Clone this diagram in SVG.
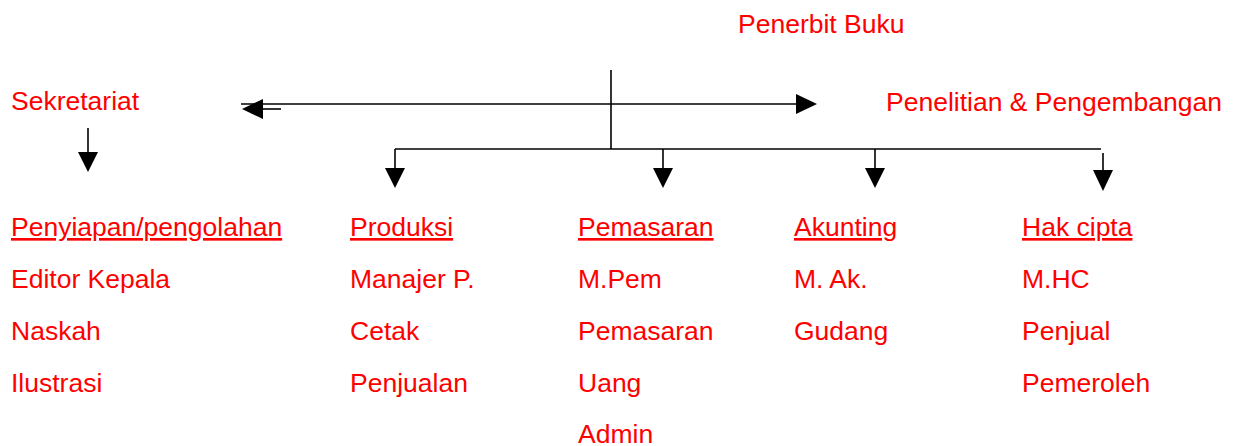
<svg xmlns="http://www.w3.org/2000/svg" width="1233" height="446" viewBox="0 0 1233 446">
  <style>
    .t { font-family: "Liberation Sans", Arial, sans-serif; font-size: 26.5px; fill: #ff0000; }
    .u { text-decoration: underline; }
    .ln { stroke: #000; stroke-width: 1.6; fill: none; }
    .ah { fill: #000; stroke: none; }
  </style>
  <rect width="1233" height="446" fill="#fff"/>

  <!-- connectors -->
  <g id="connectors">
    <!-- trunk from the top unit -->
    <line class="ln" x1="611" y1="70" x2="611" y2="149"/>
    <!-- staff line to Sekretariat and Penelitian & Pengembangan -->
    <line class="ln" x1="241" y1="104" x2="798" y2="104"/>
    <line class="ln" x1="262" y1="109" x2="281" y2="109"/>
    <polygon class="ah" points="242,109 263,99 263,119"/>
    <polygon class="ah" points="817,104 796,94 796,114"/>
    <!-- branch bar to the departments -->
    <line class="ln" x1="395" y1="149" x2="1101" y2="149"/>
    <line class="ln" x1="395" y1="149" x2="395" y2="170"/>
    <polygon class="ah" points="385,168 405,168 395,188"/>
    <line class="ln" x1="663" y1="149" x2="663" y2="170"/>
    <polygon class="ah" points="653,168 673,168 663,188"/>
    <line class="ln" x1="875" y1="149" x2="875" y2="170"/>
    <polygon class="ah" points="865,168 885,168 875,188"/>
    <line class="ln" x1="1103" y1="153" x2="1103" y2="172"/>
    <polygon class="ah" points="1093,170 1113,170 1103,191"/>
    <!-- Sekretariat down arrow -->
    <line class="ln" x1="88" y1="128" x2="88" y2="154"/>
    <polygon class="ah" points="78,152 98,152 88,172"/>
  </g>

  <g id="penerbit">
    <text class="t" x="738" y="33">Penerbit Buku</text>
  </g>
  <g id="sekretariat">
    <text class="t" x="11" y="110">Sekretariat</text>
  </g>
  <g id="litbang">
    <text class="t" x="886" y="111">Penelitian &amp; Pengembangan</text>
  </g>

  <g id="penyiapan">
    <text class="t u" x="11" y="236">Penyiapan/pengolahan</text>
    <text class="t" x="11" y="288">Editor Kepala</text>
    <text class="t" x="11" y="340">Naskah</text>
    <text class="t" x="11" y="392">Ilustrasi</text>
  </g>
  <g id="produksi">
    <text class="t u" x="350" y="236">Produksi</text>
    <text class="t" x="350" y="288">Manajer P.</text>
    <text class="t" x="350" y="340">Cetak</text>
    <text class="t" x="350" y="392">Penjualan</text>
  </g>
  <g id="pemasaran">
    <text class="t u" x="578" y="236">Pemasaran</text>
    <text class="t" x="578" y="288">M.Pem</text>
    <text class="t" x="578" y="340">Pemasaran</text>
    <text class="t" x="578" y="392">Uang</text>
    <text class="t" x="578" y="443">Admin</text>
  </g>
  <g id="akunting">
    <text class="t u" x="794" y="236">Akunting</text>
    <text class="t" x="794" y="288">M. Ak.</text>
    <text class="t" x="794" y="340">Gudang</text>
  </g>
  <g id="hakcipta">
    <text class="t u" x="1022" y="236">Hak cipta</text>
    <text class="t" x="1022" y="288">M.HC</text>
    <text class="t" x="1022" y="340">Penjual</text>
    <text class="t" x="1022" y="392">Pemeroleh</text>
  </g>
</svg>
